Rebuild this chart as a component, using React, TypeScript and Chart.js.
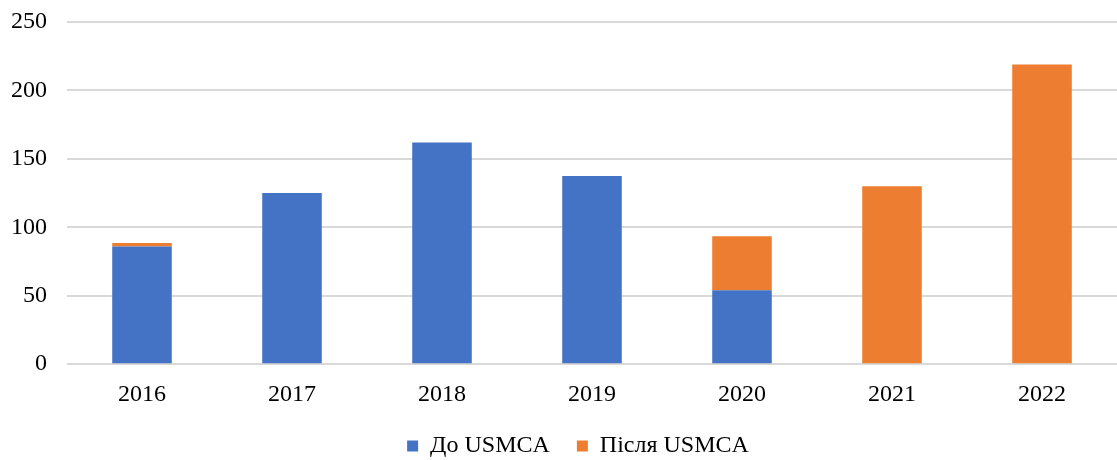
import React, { useEffect, useRef } from "react";
import { Chart, registerables } from "chart.js";

Chart.register(...registerables);

const years = ["2016", "2017", "2018", "2019", "2020", "2021", "2022"];
const beforeUSMCA = [86, 125, 162, 137.5, 54, 0, 0];
const afterUSMCA = [2.5, 0, 0, 0, 39.5, 130, 219];
const yTicks = [0, 50, 100, 150, 200, 250];

export default function App() {
  const ref = useRef<HTMLCanvasElement | null>(null);
  useEffect(() => {
    if (!ref.current) return;
    const font = { family: "'Liberation Serif', 'Times New Roman', serif", size: 24 };
    const shiftLegend = {
      id: "shiftLegend",
      afterLayout(c: any) {
        const l = c.legend;
        if (l) {
          l.left -= 14;
          l.right -= 14;
        }
      },
    };
    const chart = new Chart(ref.current, {
      type: "bar",
      data: {
        labels: years,
        datasets: [
          { label: "До USMCA", data: beforeUSMCA, backgroundColor: "#4472C4", barPercentage: 0.397, categoryPercentage: 1 },
          { label: "Після USMCA", data: afterUSMCA, backgroundColor: "#ED7D31", barPercentage: 0.397, categoryPercentage: 1 },
        ],
      },
      plugins: [shiftLegend],
      options: {
        animation: false,
        responsive: false,
        maintainAspectRatio: false,
        layout: { padding: { top: 22, right: 0, left: 0, bottom: -8 } },
        plugins: {
          tooltip: { enabled: false },
          legend: {
            position: "bottom",
            fullSize: false,
            labels: { font, color: "#000", boxWidth: 11, boxHeight: 11, padding: 27 },
          },
        },
        scales: {
          x: {
            stacked: true,
            grid: { display: false, drawTicks: false },
            border: { display: false },
            ticks: { font, color: "#000", padding: 16.5 },
            afterFit: (axis: any) => {
              axis.height = axis.height - 19;
            },
          },
          y: {
            stacked: true,
            min: 0,
            max: 250,
            afterBuildTicks: (axis: any) => {
              axis.ticks = yTicks.map((v) => ({ value: v }));
            },
            afterFit: (axis: any) => {
              axis.width = 67;
              axis.paddingTop = 0;
              axis.paddingBottom = 0;
            },
            grid: { color: "#d9d9d9", lineWidth: 2, drawTicks: false },
            border: { display: false },
            ticks: { font, color: "#000", padding: 20 },
          },
        },
      },
    });
    return () => chart.destroy();
  }, []);
  return (
    <div style={{ position: "absolute", left: 0, top: 0, width: 1117, height: 460, background: "#fff" }}>
      <canvas ref={ref} width={1117} height={460} />
    </div>
  );
}
